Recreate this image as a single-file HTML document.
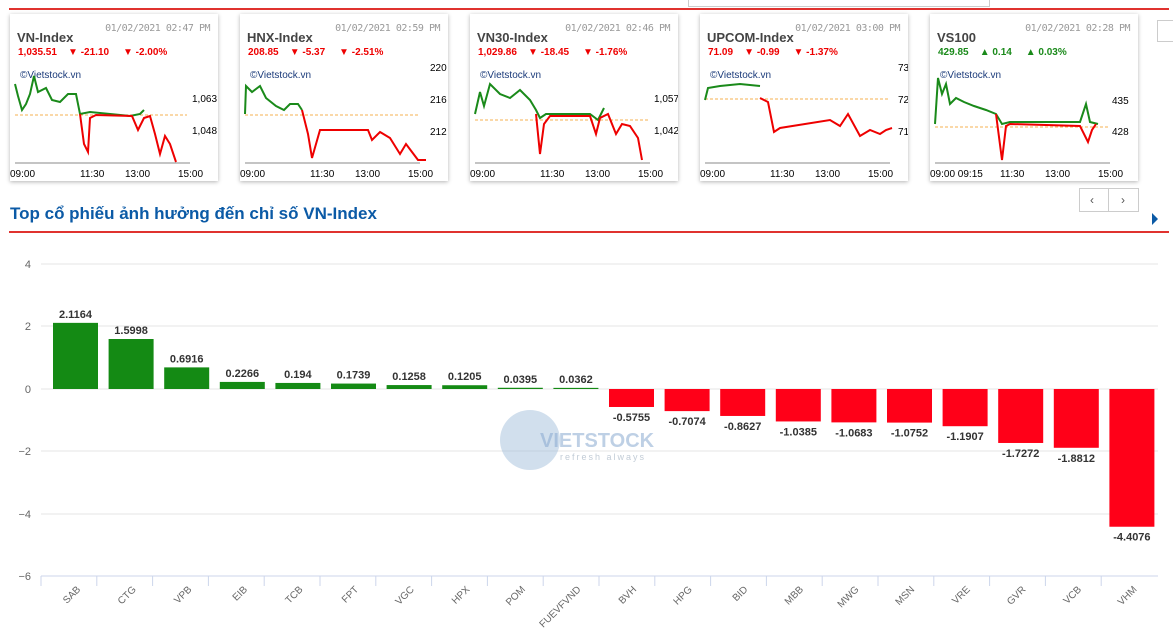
<!DOCTYPE html>
<html><head><meta charset="utf-8"><style>
body{margin:0;width:1173px;height:630px;background:#fff;font-family:"Liberation Sans","Noto Sans CJK SC",sans-serif;position:relative;overflow:hidden}
.card{position:absolute;top:14px;width:208px;height:167px;background:#fff;box-shadow:0 1px 4px rgba(0,0,0,.3)}
.card .d{position:absolute;right:8px;top:9px;font-size:10px;color:#999;font-family:"DejaVu Sans Mono",monospace;letter-spacing:-.5px}
.card .t{position:absolute;left:7px;top:16px;font-size:13px;font-weight:bold;color:#444}
.card .v{position:absolute;left:8px;top:33px;font-size:10px;color:#e00;white-space:pre;font-weight:bold}
.card .w{position:absolute;left:10px;top:56px;font-size:10px;color:#1a3a7a}
.card svg{position:absolute;left:0;top:0}
</style></head><body>
<div style="position:absolute;left:9px;top:8px;width:1160px;height:2px;background:#e0322f"></div>
<div style="position:absolute;left:688px;top:0;width:300px;height:6px;border:1px solid #ccc;border-top:none"></div>

<div class="card" style="left:10px"><div class="d">01/02/2021 02:47 PM</div><div class="t">VN-Index</div><div class="v">1,035.51    ▼ -21.10     ▼ -2.00%</div><div class="w">©Vietstock.vn</div>
<svg width="208" height="167"><line x1="5" y1="101" x2="177" y2="101" stroke="#f5b050" stroke-dasharray="3,2"/><line x1="5" y1="149" x2="180" y2="149" stroke="#888"/>
<polyline fill="none" stroke="#1a8a1a" stroke-width="2" points="5,70 8,82 12,96 16,90 20,80 24,62 28,78 36,74 42,86 50,88 58,80 66,80 70,100 80,98 120,102 130,100 134,96"/>
<polyline fill="none" stroke="#e00" stroke-width="2" points="70,100 74,130 78,138 80,104 86,101 122,102 128,116 134,104 140,102 145,120 150,140 155,122 160,130 166,148"/>
<text x="182" y="88" font-size="10">1,063</text><text x="182" y="120" font-size="10">1,048</text>
<text x="0" y="163" font-size="10">09:00</text><text x="70" y="163" font-size="10">11:30</text><text x="115" y="163" font-size="10">13:00</text><text x="168" y="163" font-size="10">15:00</text></svg></div>

<div class="card" style="left:240px"><div class="d">01/02/2021 02:59 PM</div><div class="t">HNX-Index</div><div class="v">208.85    ▼ -5.37     ▼ -2.51%</div><div class="w">©Vietstock.vn</div>
<svg width="208" height="167"><line x1="5" y1="101" x2="180" y2="101" stroke="#f5b050" stroke-dasharray="3,2"/><line x1="5" y1="149" x2="180" y2="149" stroke="#888"/>
<polyline fill="none" stroke="#1a8a1a" stroke-width="2" points="5,100 6,72 12,78 20,72 26,84 36,92 44,96 50,90 58,90 62,96"/>
<polyline fill="none" stroke="#e00" stroke-width="2" points="62,96 68,120 72,144 76,130 80,116 128,116 132,126 140,118 150,124 160,140 166,130 172,138 178,146 186,146"/>
<text x="190" y="57" font-size="10">220</text><text x="190" y="89" font-size="10">216</text><text x="190" y="121" font-size="10">212</text>
<text x="0" y="163" font-size="10">09:00</text><text x="70" y="163" font-size="10">11:30</text><text x="115" y="163" font-size="10">13:00</text><text x="168" y="163" font-size="10">15:00</text></svg></div>

<div class="card" style="left:470px"><div class="d">01/02/2021 02:46 PM</div><div class="t">VN30-Index</div><div class="v">1,029.86    ▼ -18.45     ▼ -1.76%</div><div class="w">©Vietstock.vn</div>
<svg width="208" height="167"><line x1="5" y1="106" x2="180" y2="106" stroke="#f5b050" stroke-dasharray="3,2"/><line x1="5" y1="149" x2="180" y2="149" stroke="#888"/>
<polyline fill="none" stroke="#1a8a1a" stroke-width="2" points="5,100 10,78 14,92 20,70 30,80 40,84 50,76 60,86 66,96 70,104 76,100 120,100 128,106 134,94"/>
<polyline fill="none" stroke="#e00" stroke-width="2" points="66,100 70,140 74,110 80,102 120,102 126,120 130,104 138,100 146,120 152,110 160,112 168,124 172,146"/>
<text x="184" y="88" font-size="10">1,057</text><text x="184" y="120" font-size="10">1,042</text>
<text x="0" y="163" font-size="10">09:00</text><text x="70" y="163" font-size="10">11:30</text><text x="115" y="163" font-size="10">13:00</text><text x="168" y="163" font-size="10">15:00</text></svg></div>

<div class="card" style="left:700px"><div class="d">01/02/2021 03:00 PM</div><div class="t">UPCOM-Index</div><div class="v">71.09    ▼ -0.99     ▼ -1.37%</div><div class="w">©Vietstock.vn</div>
<svg width="208" height="167"><line x1="5" y1="85" x2="188" y2="85" stroke="#f5b050" stroke-dasharray="3,2"/><line x1="5" y1="149" x2="190" y2="149" stroke="#888"/>
<polyline fill="none" stroke="#1a8a1a" stroke-width="2" points="5,86 8,74 20,72 40,70 60,72"/>
<polyline fill="none" stroke="#e00" stroke-width="2" points="60,84 68,88 74,118 80,114 130,106 140,112 148,100 160,122 170,116 180,120 186,116 192,114"/>
<text x="198" y="57" font-size="10">73</text><text x="198" y="89" font-size="10">72</text><text x="198" y="121" font-size="10">71</text>
<text x="0" y="163" font-size="10">09:00</text><text x="70" y="163" font-size="10">11:30</text><text x="115" y="163" font-size="10">13:00</text><text x="168" y="163" font-size="10">15:00</text></svg></div>

<div class="card" style="left:930px"><div class="d">01/02/2021 02:28 PM</div><div class="t">VS100</div><div class="v" style="color:#1a8a1a">429.85    ▲ 0.14     ▲ 0.03%</div><div class="w">©Vietstock.vn</div>
<svg width="208" height="167"><line x1="5" y1="113" x2="180" y2="113" stroke="#f5b050" stroke-dasharray="3,2"/><line x1="5" y1="149" x2="180" y2="149" stroke="#888"/>
<polyline fill="none" stroke="#1a8a1a" stroke-width="2" points="5,110 8,64 12,80 16,70 20,90 26,84 34,88 44,92 56,96 66,100 72,110 80,108 150,108 156,90 160,108 168,110"/>
<polyline fill="none" stroke="#e00" stroke-width="2" points="66,100 72,146 76,112 80,110 150,112 158,128 162,116 166,110"/>
<text x="182" y="90" font-size="10">435</text><text x="182" y="121" font-size="10">428</text>
<text x="0" y="163" font-size="10">09:00 09:15</text><text x="70" y="163" font-size="10">11:30</text><text x="115" y="163" font-size="10">13:00</text><text x="168" y="163" font-size="10">15:00</text></svg></div>

<div style="position:absolute;left:1157px;top:20px;width:20px;height:20px;border:1px solid #ccc"></div>
<div style="position:absolute;left:1079px;top:188px;width:58px;height:22px;border:1px solid #ccc;font-size:12px;color:#555;line-height:22px"><span style="position:absolute;left:10px">‹</span><span style="position:absolute;left:28px;top:0;height:22px;border-left:1px solid #ccc"></span><span style="position:absolute;left:41px">›</span></div>
<div style="position:absolute;left:10px;top:204px;font-size:17px;font-weight:bold;color:#0b5aa6">Top cổ phiếu ảnh hưởng đến chỉ số VN-Index</div>
<div style="position:absolute;left:1152px;top:213px;width:0;height:0;border-top:6px solid transparent;border-bottom:6px solid transparent;border-left:6px solid #0b5aa6"></div>
<div style="position:absolute;left:9px;top:231px;width:1160px;height:2px;background:#e0322f"></div>

<svg width="1173" height="630" style="position:absolute;left:0;top:0" font-family="Liberation Sans,sans-serif">
<g stroke="#e6e6e6"><line x1="41" x2="1158" y1="264" y2="264"/><line x1="41" x2="1158" y1="326" y2="326"/><line x1="41" x2="1158" y1="389" y2="389"/><line x1="41" x2="1158" y1="451" y2="451"/><line x1="41" x2="1158" y1="514" y2="514"/></g>
<line x1="41" x2="1158" y1="576" y2="576" stroke="#ccd6eb"/>
<g font-size="11" fill="#666" text-anchor="end"><text x="31" y="268">4</text><text x="31" y="330">2</text><text x="31" y="393">0</text><text x="31" y="455">−2</text><text x="31" y="518">−4</text><text x="31" y="580">−6</text></g>
<g id="bars"></g>
<circle cx="530" cy="440" r="30" fill="#9ab8d8" opacity=".45"/>
<text x="540" y="447" font-size="20" font-weight="bold" fill="#8aaad0" opacity=".55">VIETSTOCK</text>
<text x="560" y="460" font-size="9" fill="#9ab" opacity=".6" letter-spacing="2">refresh always</text>
</svg>
<script>
var d=[["SAB",2.1164],["CTG",1.5998],["VPB",0.6916],["EIB",0.2266],["TCB",0.194],["FPT",0.1739],["VGC",0.1258],["HPX",0.1205],["POM",0.0395],["FUEVFVND",0.0362],["BVH",-0.5755],["HPG",-0.7074],["BID",-0.8627],["MBB",-1.0385],["MWG",-1.0683],["MSN",-1.0752],["VRE",-1.1907],["GVR",-1.7272],["VCB",-1.8812],["VHM",-4.4076]];
var s="",u=31.25,z=389;
d.forEach(function(e,i){var x=53+55.6*i,v=e[1],h=Math.abs(v)*u,y=v>0?z-h:z,c=v>0?"#148a14":"#ff0018";
s+='<rect x="'+x+'" y="'+y+'" width="45" height="'+Math.max(h,1)+'" fill="'+c+'"/>';
var ly=v>0?y-5:y+h+14;s+='<text x="'+(x+22.5)+'" y="'+ly+'" font-size="11" font-weight="bold" fill="#333" text-anchor="middle">'+v+'</text>';
s+='<line x1="'+(41+55.8*i)+'" x2="'+(41+55.8*i)+'" y1="576" y2="586" stroke="#ccd6eb"/>';
var lx=x+28;s+='<text x="'+lx+'" y="590" font-size="10" fill="#666" text-anchor="end" transform="rotate(-45 '+lx+' 590)">'+e[0]+'</text>';});
document.getElementById("bars").innerHTML=s;
</script>
</body></html>
